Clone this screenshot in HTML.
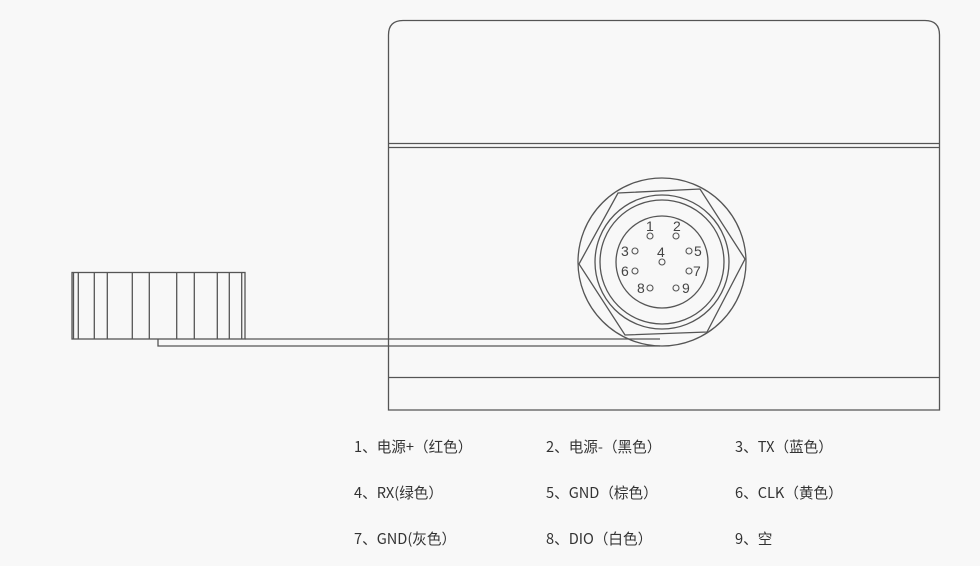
<!DOCTYPE html>
<html><head><meta charset="utf-8"><style>
html,body{margin:0;padding:0;background:#f8f8f8;}
svg{display:block}
text{font-family:"Liberation Sans","Noto Sans CJK SC",sans-serif;}
.cj{font-family:"Noto Sans CJK SC","Liberation Sans",sans-serif;}
</style></head><body>
<svg width="980" height="566" viewBox="0 0 980 566" xmlns="http://www.w3.org/2000/svg">
<g fill="none" stroke="#555" stroke-width="1.3">
<path d="M388.5 410 V35 Q388.5 20.5 403 20.5 H925 Q939.5 20.5 939.5 35 V410 Z"/>
<line x1="388.5" y1="143.5" x2="939.5" y2="143.5"/>
<line x1="388.5" y1="147.5" x2="939.5" y2="147.5"/>
<line x1="388.5" y1="377.5" x2="939.5" y2="377.5"/>
<rect x="72" y="272.5" width="173" height="66.5"/>
<g>
<line x1="78.3" y1="272.5" x2="78.3" y2="339"/>
<line x1="94.3" y1="272.5" x2="94.3" y2="339"/>
<line x1="107.3" y1="272.5" x2="107.3" y2="339"/>
<line x1="132.3" y1="272.5" x2="132.3" y2="339"/>
<line x1="149.3" y1="272.5" x2="149.3" y2="339"/>
<line x1="176.7" y1="272.5" x2="176.7" y2="339"/>
<line x1="194.3" y1="272.5" x2="194.3" y2="339"/>
<line x1="217.3" y1="272.5" x2="217.3" y2="339"/>
<line x1="229.3" y1="272.5" x2="229.3" y2="339"/>
<line x1="241.7" y1="272.5" x2="241.7" y2="339"/>
<line x1="73.5" y1="272.5" x2="73.5" y2="339"/>
</g>
<polyline points="245,339 660,339"/>
<polyline points="158,339 158,346 660,346"/>
<circle cx="662" cy="262" r="84"/>
<polygon points="579,264 618,193 700,189 745,259 707,332 625,335"/>
<circle cx="662" cy="262" r="67"/>
<circle cx="662" cy="262" r="62"/>
<circle cx="662" cy="262" r="46"/>
<g stroke-width="1.1">
<circle cx="650" cy="236" r="3"/><circle cx="676" cy="236" r="3"/>
<circle cx="635" cy="251" r="3"/><circle cx="689" cy="251" r="3"/>
<circle cx="662" cy="262" r="3"/>
<circle cx="635" cy="271" r="3"/><circle cx="689" cy="271" r="3"/>
<circle cx="650" cy="288" r="3"/><circle cx="676" cy="288" r="3"/>
</g>
</g>
<g fill="#444" font-size="14">
<text x="646" y="231">1</text><text x="673" y="231">2</text>
<text x="621" y="256">3</text><text x="694" y="256">5</text>
<text x="657" y="257">4</text>
<text x="621" y="276">6</text><text x="693" y="276">7</text>
<text x="637" y="293">8</text><text x="682" y="293">9</text>
</g>
<g fill="#333" font-size="14.6">
<text class="cj" x="354" y="452">1、电源+（红色）</text>
<text class="cj" x="546" y="452">2、电源-（黑色）</text>
<text class="cj" x="735" y="452">3、TX（蓝色）</text>
<text class="cj" x="354" y="498">4、RX(绿色）</text>
<text class="cj" x="546" y="498">5、GND（棕色）</text>
<text class="cj" x="735" y="498">6、CLK（黄色）</text>
<text class="cj" x="354" y="544">7、GND(灰色）</text>
<text class="cj" x="546" y="544">8、DIO（白色）</text>
<text class="cj" x="735" y="544">9、空</text>
</g>
</svg>
</body></html>
